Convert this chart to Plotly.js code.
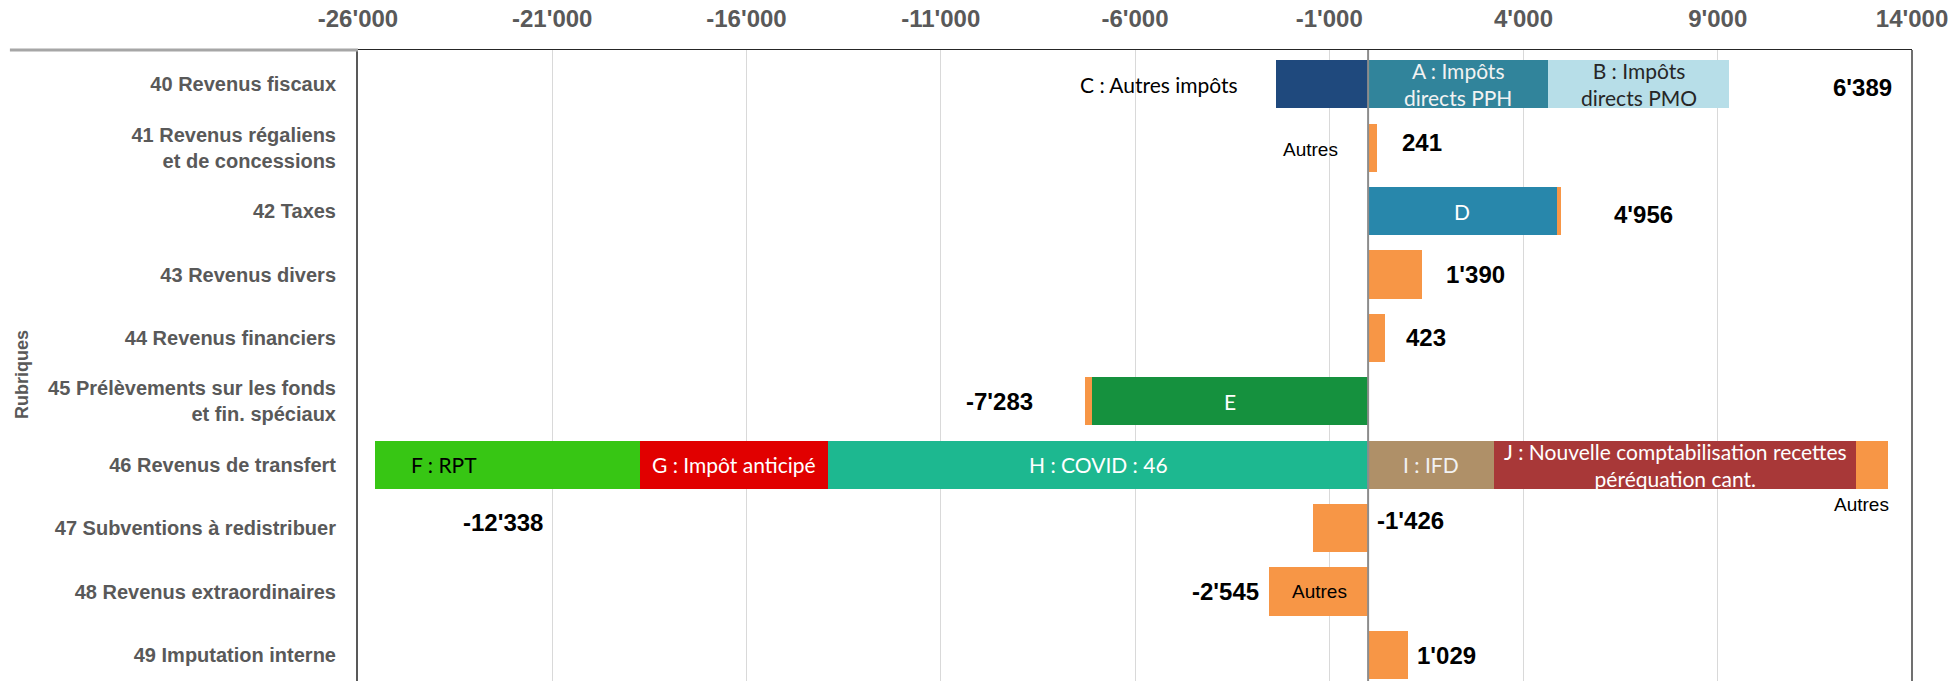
<!DOCTYPE html>
<html>
<head>
<meta charset="utf-8">
<script src="https://cdn.plot.ly/plotly-3.0.1.min.js"></script>
<style>
  html, body { margin: 0; padding: 0; background: #ffffff; overflow: hidden; }
  #chart { width: 1954px; height: 681px; }
</style>
</head>
<body>
<div id="chart"></div>
<script>
// ---------------- DATA ----------------
const categories = [
  "40 Revenus fiscaux",
  "41 Revenus régaliens<br>et de concessions",
  "42 Taxes",
  "43 Revenus divers",
  "44 Revenus financiers",
  "45 Prélèvements sur les fonds<br>et fin. spéciaux",
  "46 Revenus de transfert",
  "47 Subventions à redistribuer",
  "48 Revenus extraordinaires",
  "49 Imputation interne"
];

// named components (stacking order: first is closest to zero)
const componentNames = [
  "A : Impôts<br>directs PPH",
  "B : Impôts<br>directs PMO",
  "C : Autres impôts",
  "D",
  "E",
  "H : COVID : 46",
  "G : Impôt anticipé",
  "F : RPT",
  "I : IFD",
  "J : Nouvelle comptabilisation recettes<br>péréquation cant."
];
const componentRows = [0, 0, 0, 2, 5, 6, 6, 6, 6, 6];
const componentValues = [4630, 4660, -2370, 4850, -7100, -13900, -4830, -6820, 3240, 9330];

// remaining part "Autres" per rubrique
const autresName = "Autres";
const autresValues = [null, 241, 110, 1390, 423, -183, 810, -1426, -2545, 1029];

// net totals per rubrique (data labels)
const totals = [6389, 241, 4956, 1390, 423, -7283, -12338, -1426, -2545, 1029];

// axis ticks
const tickValues = [-26000, -21000, -16000, -11000, -6000, -1000, 4000, 9000, 14000];
const axisTitle = "Rubriques";

// ---------------- STYLE / PLACEMENT ----------------
const componentColors = ["#31849B", "#B7DEE8", "#1F497D", "#2887AB", "#15913E",
                         "#1DB890", "#E10000", "#37C614", "#AF9068", "#A83838"];
const componentTextColors = ["#F2F2F2", "#262626", "#000000", "#FFFFFF", "#FFFFFF",
                             "#FFFFFF", "#FFFFFF", "#000000", "#F2F2F2", "#FFFFFF"];
// label placement: 'mid' = centred in segment, 'outside' = left of segment
const componentLabelMode = ["mid", "mid", "outside", "mid", "mid", "mid", "mid", "mid", "mid", "mid"];
const componentLabelShift = [0, 0, -36, 0, 0, 0, 0, -64, 0, 0];
const autresColor = "#F79646";

// total label anchor positions (x in data units, y in category index)
const totalLabelX = [12716, 1390, 7078, 2754, 1493, -9498, -22265, 1080, -3680, 2008];
const totalLabelY = [0.05, 0.92, 2.05, 3, 4, 5, 6.91, 6.88, 8, 9];

// "Autres" notes (x data units, y category index)
const autresNoteX = [-1493, 12690, -1261];
const autresNoteY = [1.03, 6.62, 8];

const FONT = "Liberation Sans, Arial, sans-serif";
const LABEL_FONT = "Lato, Open Sans, sans-serif";

function fmt(v) {
  const s = Math.abs(Math.round(v)).toString().replace(/\B(?=(\d{3})+(?!\d))/g, "'");
  return (v < 0 ? "-" : "") + s;
}

// ---------------- TRACES ----------------
const traces = [];
componentNames.forEach((name, i) => {
  traces.push({
    type: "bar",
    orientation: "h",
    name: name,
    y: [categories[componentRows[i]]],
    x: [componentValues[i]],
    width: 0.76,
    marker: { color: componentColors[i], line: { width: 0 } },
    hoverinfo: "skip",
    showlegend: false
  });
});
traces.push({
  type: "bar",
  orientation: "h",
  name: autresName,
  y: categories,
  x: autresValues,
  width: 0.76,
  marker: { color: autresColor, line: { width: 0 } },
  hoverinfo: "skip",
  showlegend: false
});

// ---------------- ANNOTATIONS ----------------
const annotations = [];
const posCum = categories.map(() => 0);
const negCum = categories.map(() => 0);
componentNames.forEach((name, i) => {
  const r = componentRows[i];
  const v = componentValues[i];
  let start, end;
  if (v >= 0) { start = posCum[r]; end = start + v; posCum[r] = end; }
  else { start = negCum[r]; end = start + v; negCum[r] = end; }
  const outside = componentLabelMode[i] === "outside";
  annotations.push({
    x: outside ? end : (start + end) / 2,
    y: r,
    xref: "x", yref: "y",
    text: name,
    showarrow: false,
    xanchor: outside ? "right" : "center",
    yanchor: "middle",
    xshift: componentLabelShift[i],
    font: { family: LABEL_FONT, size: 21, color: componentTextColors[i] }
  });
});
totals.forEach((t, i) => {
  annotations.push({
    x: totalLabelX[i], y: totalLabelY[i],
    xref: "x", yref: "y",
    text: fmt(t),
    showarrow: false,
    xanchor: "center", yanchor: "middle",
    font: { family: FONT, size: 24, color: "#000000", weight: "bold" }
  });
});
autresNoteX.forEach((x, i) => {
  annotations.push({
    x: x, y: autresNoteY[i],
    xref: "x", yref: "y",
    text: autresName,
    showarrow: false,
    xanchor: "center", yanchor: "middle",
    font: { family: FONT, size: 19, color: "#000000" }
  });
});
annotations.push({
  x: -0.2162, y: 0.485, xref: "paper", yref: "paper",
  text: "<b>" + axisTitle + "</b>",
  textangle: -90,
  showarrow: false,
  xanchor: "center", yanchor: "middle",
  font: { family: FONT, size: 18, color: "#595959" }
});

// ---------------- LAYOUT ----------------
const layout = {
  width: 1954,
  height: 681,
  margin: { l: 358, r: 42, t: 50, b: 0, pad: 0 },
  paper_bgcolor: "#ffffff",
  plot_bgcolor: "#ffffff",
  barmode: "relative",
  bargap: 0,
  showlegend: false,
  xaxis: {
    side: "top",
    range: [-26000, 14000],
    tickvals: tickValues,
    ticktext: tickValues.map(fmt),
    ticks: "",
    showgrid: true,
    gridcolor: "#D9D9D9",
    gridwidth: 1,
    zeroline: false,
    showline: true,
    linecolor: "#262626",
    linewidth: 1,
    ticklabelstandoff: 12,
    tickfont: { family: FONT, size: 24, color: "#595959", weight: "bold" },
    fixedrange: true
  },
  yaxis: {
    type: "category",
    categoryorder: "array",
    categoryarray: categories,
    range: [9.41, -0.54],
    ticks: "",
    showgrid: false,
    zeroline: false,
    showline: true,
    linecolor: "#595959",
    linewidth: 2,
    ticklabelstandoff: 16,
    tickfont: { family: FONT, size: 20, color: "#595959", weight: "bold" },
    fixedrange: true
  },
  shapes: [
    { type: "line", xref: "x", yref: "paper", x0: 0, x1: 0, y0: 0, y1: 1,
      line: { color: "#8C8C8C", width: 2 }, layer: "above" },
    { type: "line", xref: "paper", yref: "paper", x0: 1, x1: 1, y0: 0, y1: 1,
      line: { color: "#404040", width: 1.5 }, layer: "above" },
    { type: "line", xref: "paper", yref: "paper", x0: -0.224, x1: 0, y0: 1, y1: 1,
      line: { color: "#A6A6A6", width: 3 }, layer: "above" }
  ],
  annotations: annotations
};

Plotly.newPlot("chart", traces, layout, { displayModeBar: false, staticPlot: true });
</script>
</body>
</html>
